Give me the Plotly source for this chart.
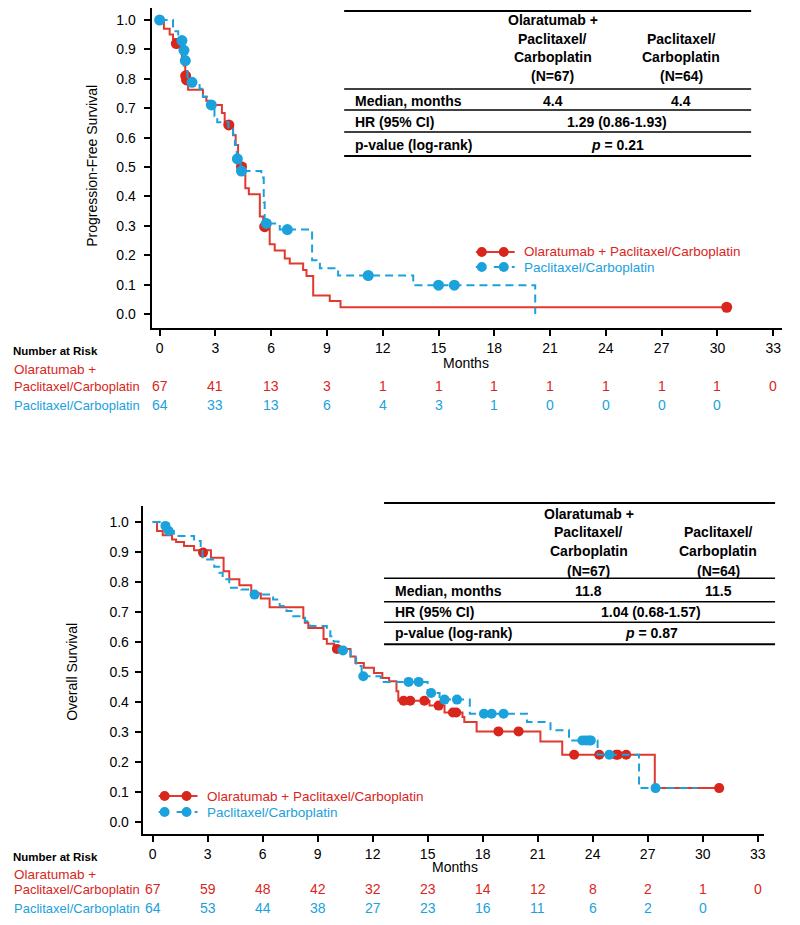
import plotly.graph_objects as go

# ---------------- DATA ----------------
risk_months = [0, 3, 6, 9, 12, 15, 18, 21, 24, 27, 30, 33]

# PFS (top)
pfs_red_t = [0.23, 0.54, 0.72, 0.85, 1.10, 1.20, 1.30, 1.38, 1.43, 1.53, 2.33, 2.51, 2.65, 3.35, 3.50,
             3.95, 4.09, 4.22, 4.61, 4.80, 5.39, 5.57, 5.92, 6.19, 6.73, 7.00, 7.72, 7.90, 8.26, 9.15, 9.73]
pfs_red_s = [0.970, 0.951, 0.935, 0.920, 0.905, 0.875, 0.845, 0.810, 0.796, 0.763, 0.739, 0.725, 0.711, 0.684, 0.646,
             0.608, 0.575, 0.510, 0.428, 0.407, 0.332, 0.297, 0.237, 0.216, 0.189, 0.172, 0.150, 0.129, 0.063, 0.044, 0.023]
pfs_red_end = 30.5
pfs_red_cens_t = [0.90, 1.40, 1.45, 3.72, 4.40, 5.65, 30.5]
pfs_red_cens_s = [0.920, 0.810, 0.796, 0.643, 0.501, 0.297, 0.023]

pfs_blue_t = [0.72, 1.00, 1.15, 1.28, 1.35, 1.50, 2.15, 2.33, 2.60, 2.95, 3.10, 3.70, 3.95, 4.05, 4.15, 4.35,
              5.47, 5.60, 5.65, 6.46, 8.20, 8.62, 9.60, 13.64, 20.20]
pfs_blue_s = [0.962, 0.946, 0.930, 0.897, 0.862, 0.788, 0.766, 0.739, 0.711, 0.673, 0.652, 0.630, 0.610, 0.575, 0.528, 0.486,
              0.464, 0.380, 0.308, 0.287, 0.183, 0.156, 0.131, 0.098, 0.0]
pfs_blue_end = 20.2
pfs_blue_cens_t = [0.0, 1.20, 1.31, 1.38, 1.74, 2.78, 4.18, 4.40, 5.74, 6.87, 11.22, 15.0, 15.85]
pfs_blue_cens_s = [1.0, 0.930, 0.897, 0.862, 0.788, 0.711, 0.528, 0.486, 0.308, 0.287, 0.131, 0.098, 0.098]

pfs_risk_red = [67, 41, 13, 3, 1, 1, 1, 1, 1, 1, 1, 0]
pfs_risk_blue = [64, 33, 13, 6, 4, 3, 1, 0, 0, 0, 0]

# OS (bottom)
os_red_t = [0.24, 0.55, 1.06, 1.28, 1.71, 2.26, 3.18, 3.87, 4.18, 4.73, 5.38, 5.90, 6.38, 8.22, 8.30, 8.49,
            9.32, 9.50, 9.90, 10.79, 11.06, 11.52, 12.07, 12.53, 12.90, 13.30, 13.40, 15.10, 15.92, 16.90,
            17.00, 17.67, 21.15, 22.34, 27.39]
os_red_s = [0.970, 0.956, 0.942, 0.933, 0.920, 0.906, 0.881, 0.836, 0.809, 0.789, 0.762, 0.745, 0.716, 0.680, 0.664, 0.647,
            0.610, 0.594, 0.577, 0.552, 0.530, 0.514, 0.497, 0.480, 0.469, 0.436, 0.404, 0.388, 0.365, 0.350,
            0.333, 0.302, 0.268, 0.224, 0.113]
os_red_end = 30.9
os_red_cens_t = [2.75, 10.05, 13.69, 14.05, 14.82, 15.60, 16.38, 16.56, 18.86, 19.96, 22.99, 24.36, 25.28, 25.37, 25.83, 30.90]
os_red_cens_s = [0.898, 0.577, 0.404, 0.404, 0.404, 0.388, 0.365, 0.365, 0.302, 0.302, 0.224, 0.224, 0.224, 0.224, 0.224, 0.113]

os_blue_t = [0.60, 0.80, 1.16, 2.26, 2.62, 2.72, 3.36, 3.63, 3.82, 4.18, 4.83, 5.47, 6.57, 6.93, 7.30, 7.67, 8.31, 8.59,
             9.50, 9.69, 9.87, 10.14, 10.80, 11.10, 11.40, 12.44, 15.00, 15.65, 17.30, 20.42, 21.70, 22.71, 24.27, 26.53]
os_blue_s = [0.985, 0.970, 0.953, 0.937, 0.903, 0.875, 0.851, 0.831, 0.809, 0.781, 0.775, 0.758, 0.742, 0.720, 0.703, 0.686, 0.669, 0.653,
             0.636, 0.619, 0.602, 0.572, 0.552, 0.520, 0.486, 0.467, 0.430, 0.408, 0.361, 0.333, 0.306, 0.272, 0.224, 0.113]
os_blue_end = 29.7
os_blue_cens_t = [0.70, 0.88, 5.56, 10.38, 11.49, 13.96, 14.51, 15.19, 15.92, 16.60, 18.07, 18.49, 19.14,
                  23.44, 23.63, 23.80, 23.90, 24.91, 27.43]
os_blue_cens_s = [0.987, 0.970, 0.758, 0.572, 0.486, 0.467, 0.467, 0.430, 0.408, 0.408, 0.361, 0.361, 0.361,
                  0.272, 0.272, 0.272, 0.272, 0.224, 0.113]

os_risk_red = [67, 59, 48, 42, 32, 23, 14, 12, 8, 2, 1, 0]
os_risk_blue = [64, 53, 44, 38, 27, 23, 16, 11, 6, 2, 0]

arm_red = "Olaratumab + Paclitaxel/Carboplatin"
arm_blue = "Paclitaxel/Carboplatin"
pfs_table = {"med": ["4.4", "4.4"], "hr": "1.29 (0.86-1.93)", "p": "0.21"}
os_table = {"med": ["11.8", "11.5"], "hr": "1.04 (0.68-1.57)", "p": "0.87"}

# ---------------- STYLE ----------------
W, H = 800, 925
RED = "#d9261c"
RED_LINE = "#e0392e"
BLUE = "#1ba1dc"
ARIAL = "Liberation Sans, Arial, sans-serif"

fig = go.Figure()
annotations = []
shapes = []


def px(x):
    return x / W


def py(y):
    return 1 - y / H


def ann(text, x, y, size=14, color="black", bold=False, xanchor="center", angle=0):
    if bold:
        text = "<b>" + text + "</b>"
    annotations.append(dict(text=text, x=px(x), y=py(y), xref="paper", yref="paper", showarrow=False,
                            xanchor=xanchor, yanchor="middle", textangle=angle,
                            font=dict(size=size, color=color, family=ARIAL)))


def km_trace(t, s, end, color, dash, xa, ya):
    xs = [0] + list(t) + [end]
    ys = [1.0] + list(s) + [s[-1]]
    fig.add_trace(go.Scatter(x=xs, y=ys, mode="lines", line=dict(color=color, width=2, shape="hv", dash=dash),
                             xaxis=xa, yaxis=ya, hoverinfo="skip"))


def cens_trace(t, s, color, size, xa, ya):
    fig.add_trace(go.Scatter(x=t, y=s, mode="markers", marker=dict(color=color, size=size, line=dict(width=0)),
                             xaxis=xa, yaxis=ya, hoverinfo="skip"))


# top panel
km_trace(pfs_red_t, pfs_red_s, pfs_red_end, RED_LINE, "solid", "x", "y")
cens_trace(pfs_red_cens_t, pfs_red_cens_s, RED, 11, "x", "y")
km_trace(pfs_blue_t, pfs_blue_s, pfs_blue_end, BLUE, "8px,5px", "x", "y")
cens_trace(pfs_blue_cens_t, pfs_blue_cens_s, BLUE, 11, "x", "y")

# bottom panel
km_trace(os_red_t, os_red_s, os_red_end, RED_LINE, "solid", "x2", "y2")
cens_trace(os_red_cens_t, os_red_cens_s, RED, 10, "x2", "y2")
km_trace(os_blue_t, os_blue_s, os_blue_end, BLUE, "8px,5px", "x2", "y2")
cens_trace(os_blue_cens_t, os_blue_cens_s, BLUE, 10, "x2", "y2")

yt = [round(i * 0.1, 1) for i in range(11)]
axis_common = dict(showline=True, linewidth=2, linecolor="black", ticks="outside", ticklen=6, tickwidth=2,
                   tickcolor="black", showgrid=False, zeroline=False)
xcommon = dict(axis_common, tickvals=risk_months, ticktext=[str(m) for m in risk_months],
               tickfont=dict(family=ARIAL, size=14, color="black"))
ycommon = dict(axis_common, tickvals=yt, ticktext=["%.1f" % v for v in yt],
               tickfont=dict(family=ARIAL, size=14, color="black"))

# panel geometry (pixels): plot box l/r/t/b, month-0 x, px per month, y of S=1, px per unit S
T = dict(l=144, r=776, t=0, b=320, m0=152, mpp=18.64, y1=12, ypp=294.0, standoff=5)
B = dict(l=135, r=758, t=498, b=826, m0=145, mpp=18.38, y1=514, ypp=300.0, standoff=3)


def xr(P):
    return [(P["l"] - P["m0"]) / P["mpp"], (P["r"] - P["m0"]) / P["mpp"]]


def yr(P):
    y0 = P["y1"] + P["ypp"]
    return [(y0 - P["b"]) / P["ypp"], (y0 - P["t"]) / P["ypp"]]


fig.update_layout(
    width=W, height=H, margin=dict(l=0, r=0, t=0, b=0), showlegend=False,
    plot_bgcolor="white", paper_bgcolor="white",
    xaxis=dict(xcommon, domain=[px(T["l"]), px(T["r"])], range=xr(T), anchor="y"),
    yaxis=dict(ycommon, domain=[py(T["b"]), py(T["t"])], range=yr(T), anchor="x",
               ticklabelstandoff=T["standoff"]),
    xaxis2=dict(xcommon, domain=[px(B["l"]), px(B["r"])], range=xr(B), anchor="y2"),
    yaxis2=dict(ycommon, domain=[py(B["b"]), py(B["t"])], range=yr(B), anchor="x2",
                ticklabelstandoff=B["standoff"]),
)

# axis titles
ann("Progression-Free Survival", 84, 158, size=14, angle=-90)
ann("Overall Survival", 64, 664, size=14, angle=-90)


# legends
def legend(x0, yrow, size):
    for yy, col, mcol, dash, txt in [(yrow[0], RED_LINE, RED, None, arm_red), (yrow[1], BLUE, BLUE, "dash", arm_blue)]:
        shapes.append(dict(type="line", xref="paper", yref="paper", x0=px(x0), x1=px(x0 + 39), y0=py(yy), y1=py(yy),
                           line=dict(color=col, width=2, dash=dash)))
        for mx in (x0 + 6, x0 + 28):
            r = 5
            shapes.append(dict(type="circle", xref="paper", yref="paper", x0=px(mx - r), x1=px(mx + r),
                               y0=py(yy + r), y1=py(yy - r), fillcolor=mcol, line=dict(width=0)))
        ann(txt, x0 + 46, yy, size=size, color=mcol, xanchor="left")


legend(469, (244, 259), 13.5)
legend(151, (788, 804), 13.5)


# summary tables
def table(x0, x1, c1, c2, cmid, lines, header_y, rows_y, vals):
    for i, ly in enumerate(lines):
        shapes.append(dict(type="line", xref="paper", yref="paper", x0=px(x0), x1=px(x1), y0=py(ly), y1=py(ly),
                           line=dict(color="black", width=2 if i in (0, len(lines) - 1) else 1.5)))
    h1 = ["Olaratumab +", "Paclitaxel/", "Carboplatin", "(N=67)"]
    h2 = ["Paclitaxel/", "Carboplatin", "(N=64)"]
    for i, t in enumerate(h1):
        ann(t, c1, header_y[i], bold=True)
    for i, t in enumerate(h2):
        ann(t, c2, header_y[i + 1], bold=True)
    ann("Median, months", x0 + 9, rows_y[0], bold=True, xanchor="left")
    ann("HR (95% CI)", x0 + 9, rows_y[1], bold=True, xanchor="left")
    ann("p-value (log-rank)", x0 + 9, rows_y[2], bold=True, xanchor="left")
    ann(vals["med"][0], c1, rows_y[0], bold=True)
    ann(vals["med"][1], c2, rows_y[0], bold=True)
    ann(vals["hr"], cmid, rows_y[1], bold=True)
    ann("<i>p</i> = " + vals["p"], cmid, rows_y[2], bold=True)


table(337, 745, 546, 675, 611, [3, 81, 102, 124, 148], [12, 31, 49, 68], [93, 114, 137], pfs_table)
table(377, 769, 582, 712, 645, [495, 570.3, 593.7, 614.3, 636.3], [506, 524.3, 542.7, 562.7], [582.7, 604.3, 625],
      os_table)


# risk tables
def risk(xa, P, ys, red_vals, blue_vals):
    ann("Months", (P["m0"] + P["mpp"] * 16.5), ys["months"], size=14)
    ann("Number at Risk", 3, ys["nar"], size=11.5, bold=True, xanchor="left")
    ann("Olaratumab +", 4, ys["olar"], size=13.5, color=RED, xanchor="left")
    ann("Paclitaxel/Carboplatin", 4, ys["red"], size=13, color=RED, xanchor="left")
    ann("Paclitaxel/Carboplatin", 4, ys["blue"], size=13, color=BLUE, xanchor="left")
    for m, v in zip(risk_months, red_vals):
        annotations.append(dict(text=str(v), x=m, y=py(ys["red"]), xref=xa, yref="paper", showarrow=False,
                                xanchor="center", yanchor="middle",
                                font=dict(size=14, color=RED, family=ARIAL)))
    for m, v in zip(risk_months, blue_vals):
        annotations.append(dict(text=str(v), x=m, y=py(ys["blue"]), xref=xa, yref="paper", showarrow=False,
                                xanchor="center", yanchor="middle",
                                font=dict(size=14, color=BLUE, family=ARIAL)))


risk("x", T, dict(months=355, nar=343, olar=361, red=378, blue=397), pfs_risk_red, pfs_risk_blue)
risk("x2", B, dict(months=859, nar=849, olar=866, red=881, blue=900), os_risk_red, os_risk_blue)

fig.update_layout(annotations=annotations, shapes=shapes)
fig.write_html("out.html")
